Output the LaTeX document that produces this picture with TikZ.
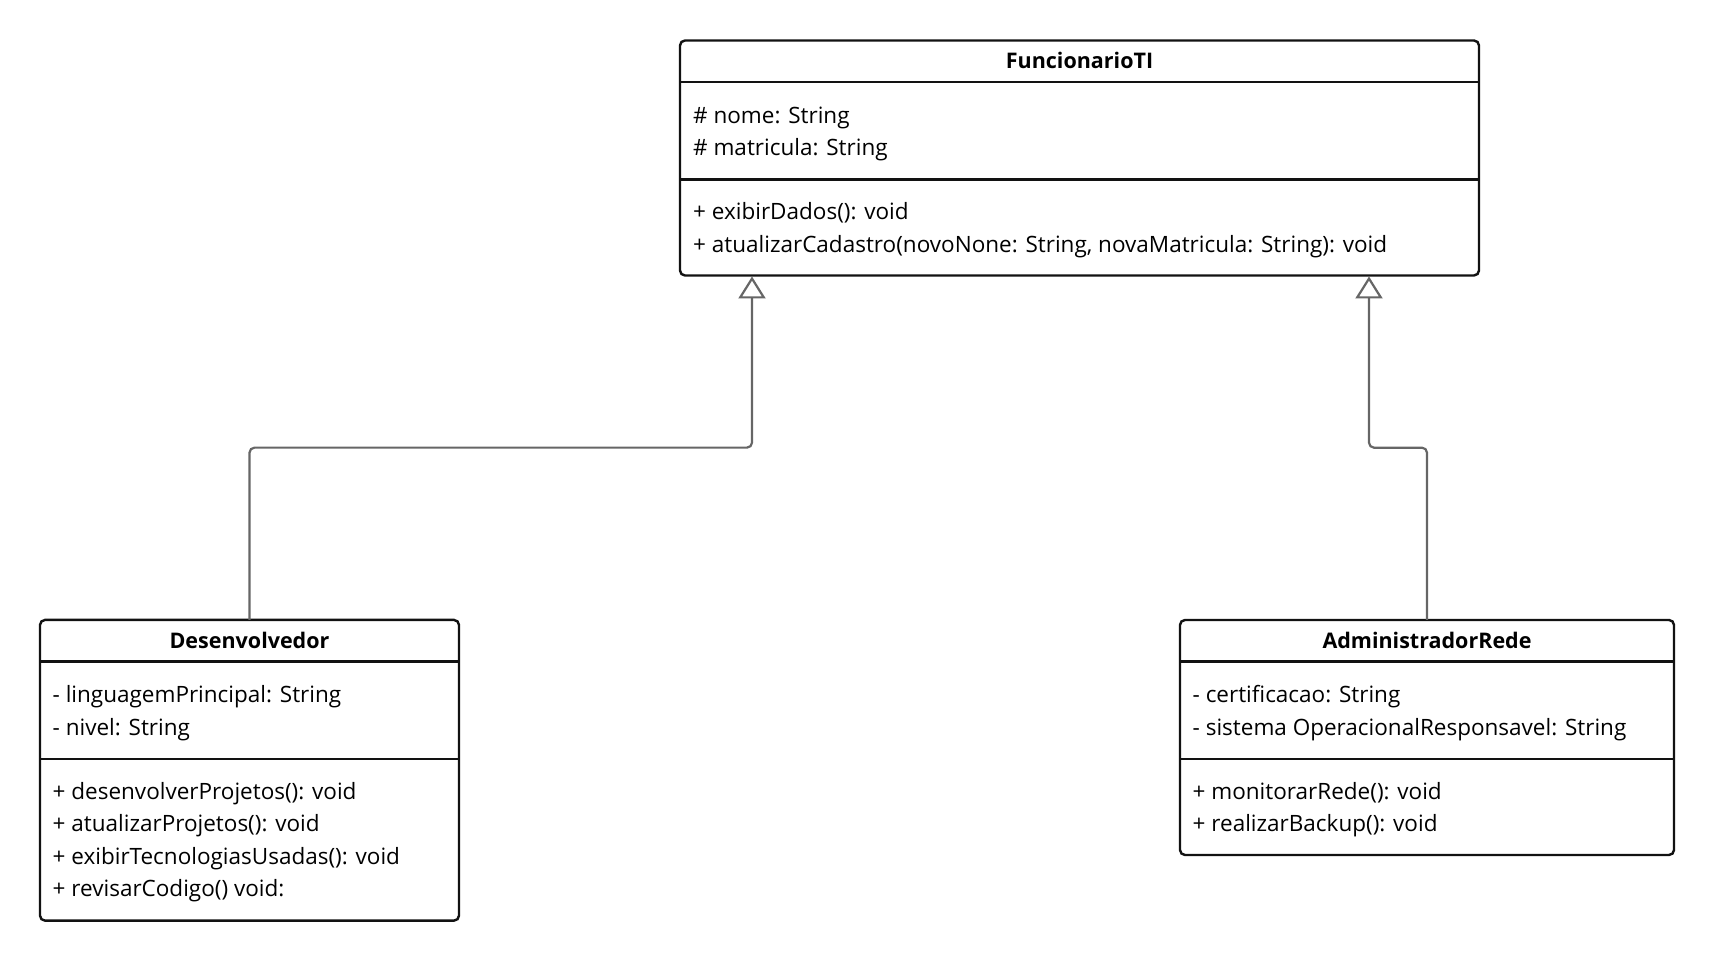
\documentclass[tikz,border=0pt]{standalone}
\usepackage{fontspec}
\setmainfont{Open Sans}
\usetikzlibrary{arrows.meta}

\begin{document}
\begin{tikzpicture}[x=1pt,y=1pt,
  classbox/.style = {draw=black!93, line width=2.4pt, rounded corners=5pt,
                     inner sep=0pt, outer sep=0pt, fill=white},
  title/.style    = {inner sep=0pt, text height=15pt, text depth=0pt,
                     font=\fontsize{21.5}{25}\selectfont\bfseries},
  member/.style   = {anchor=west, inner sep=0pt, text height=15.5pt,
                     text depth=0pt, font=\fontsize{22.5}{27}\selectfont},
  rule/.style     = {draw=black!93, line width=2.4pt},
  inherit/.style  = {draw=black!60, line width=2.2pt, rounded corners=5pt,
                     -{Triangle[open, fill=white, length=22pt, width=27pt]}},
]
  \useasboundingbox (0,0) rectangle (1714,961);

  % class boxes
  \node[classbox, minimum width=799pt, minimum height=235pt]   (func) at (1079.5,803) {};
  \node[classbox, minimum width=419pt, minimum height=300.7pt] (dev)  at (249.5,190.7) {};
  \node[classbox, minimum width=494pt, minimum height=235pt]   (adm)  at (1427,223.5) {};

  % compartments
  \foreach \c in {func,dev,adm} {
    \draw[rule] ([yshift=-41.5pt]\c.north west) -- ([yshift=-41.5pt]\c.north east);
    \draw[rule] ([yshift=-139pt]\c.north west) -- ([yshift=-139pt]\c.north east);
  }

  \node[title] (funcT) at ([yshift=-21pt]func.north) {FuncionarioTI};
  \node[title] (devT)  at ([yshift=-21pt]dev.north)  {Desenvolvedor};
  \node[title] (admT)  at ([yshift=-21pt]adm.north)  {AdministradorRede};

  \foreach \t [count=\i from 0] in {{\# nome: String},{\# matricula: String}}
    \node[member] (funcA\i) at ([shift={(13,{-75-32.5*\i})}]func.north west) {\t};
  \foreach \t [count=\i from 0] in {{+ exibirDados(): void},
      {+ atualizarCadastro(novoNone: String, novaMatricula: String): void}}
    \node[member] (funcM\i) at ([shift={(13,{-171.5-32.5*\i})}]func.north west) {\t};

  \foreach \t [count=\i from 0] in {{- linguagemPrincipal: String},{- nivel: String}}
    \node[member] (devA\i) at ([shift={(12.5,{-75-32.5*\i})}]dev.north west) {\t};
  \foreach \t [count=\i from 0] in {{+ desenvolverProjetos(): void},
      {+ atualizarProjetos(): void},{+ exibirTecnologiasUsadas(): void},
      {+ revisarCodigo() void:}}
    \node[member] (devM\i) at ([shift={(12.5,{-171.5-32.5*\i})}]dev.north west) {\t};

  \foreach \t [count=\i from 0] in {{- certificacao: String},
      {- sistema OperacionalResponsavel: String}}
    \node[member] (admA\i) at ([shift={(12.5,{-75-32.5*\i})}]adm.north west) {\t};
  \foreach \t [count=\i from 0] in {{+ monitorarRede(): void},{+ realizarBackup(): void}}
    \node[member] (admM\i) at ([shift={(12.5,{-171.5-32.5*\i})}]adm.north west) {\t};

  % generalisation
  \coordinate (funcL) at ([xshift=72pt,yshift=-1pt]func.south west);
  \coordinate (funcR) at ([xshift=-110pt,yshift=-1pt]func.south east);
  \draw[inherit] (dev.north) -- ++(0,172.3) -| (funcL);
  \draw[inherit] (adm.north) -- ++(0,172.3) -| (funcR);
\end{tikzpicture}
\end{document}
